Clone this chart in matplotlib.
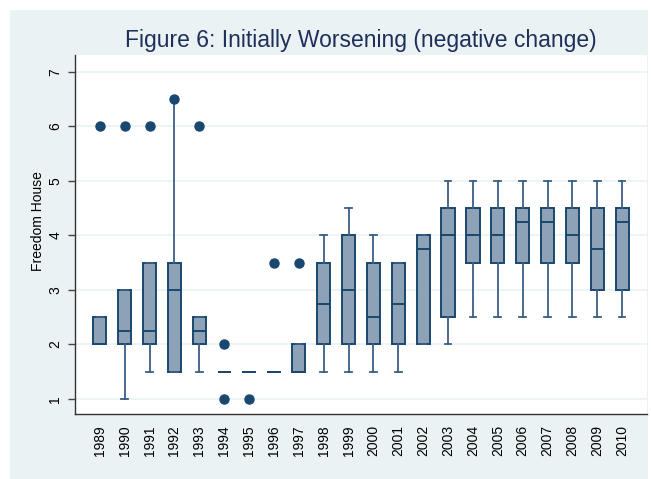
import matplotlib
matplotlib.use("Agg")
import matplotlib.pyplot as plt
from matplotlib.patches import Rectangle

years = [str(y) for y in range(1989, 2011)]
q1 = [2, 2, 2, 1.5, 2, 1.5, 1.5, 1.5, 1.5, 2, 2, 2, 2, 2, 2.5, 3.5, 3.5, 3.5, 3.5, 3.5, 3, 3]
med = [2, 2.25, 2.25, 3, 2.25, 1.5, 1.5, 1.5, 1.5, 2.75, 3, 2.5, 2.75, 3.75, 4, 4, 4, 4.25, 4.25, 4, 3.75, 4.25]
q3 = [2.5, 3, 3.5, 3.5, 2.5, 1.5, 1.5, 1.5, 2, 3.5, 4, 3.5, 3.5, 4, 4.5, 4.5, 4.5, 4.5, 4.5, 4.5, 4.5, 4.5]
whislo = [2, 1, 1.5, 1.5, 1.5, 1.5, 1.5, 1.5, 1.5, 1.5, 1.5, 1.5, 1.5, 2, 2, 2.5, 2.5, 2.5, 2.5, 2.5, 2.5, 2.5]
whishi = [2.5, 3, 3.5, 6.5, 2.5, 1.5, 1.5, 1.5, 2, 4, 4.5, 4, 3.5, 4, 5, 5, 5, 5, 5, 5, 5, 5]
outliers = [[6], [6], [6], [6.5], [6], [2, 1], [1], [3.5], [3.5],
            [], [], [], [], [], [], [], [], [], [], [], [], []]
yticks = [1, 2, 3, 4, 5, 6, 7]

navy = "#1a476f"
fill = "#8da2b6"
bg = "#eaf2f3"

plt.rcParams['font.family'] = ['Liberation Sans', 'DejaVu Sans']

fig = plt.figure(figsize=(6.51, 4.79), dpi=100)
fig.patch.set_facecolor("white")
fig.patches.append(Rectangle((10/651, 0), (648-10)/651, (479-10)/479,
                             transform=fig.transFigure, facecolor=bg,
                             edgecolor="none", zorder=-10))

ax = fig.add_axes([75/651, (479-414)/479, (647-75)/651, (414-55)/479])
ax.set_facecolor("white")

stats = []
for i in range(len(years)):
    stats.append(dict(q1=q1[i], med=med[i], q3=q3[i], whislo=whislo[i],
                      whishi=whishi[i], fliers=outliers[i], label=years[i]))

positions = list(range(1, len(years) + 1))
ax.bxp(stats, positions=positions, widths=0.53, patch_artist=True,
       showfliers=True,
       boxprops=dict(facecolor=fill, edgecolor=navy, linewidth=1.4),
       medianprops=dict(color=navy, linewidth=1.4),
       whiskerprops=dict(color="#3a5f85", linewidth=1.3),
       capprops=dict(color="#3a5f85", linewidth=1.3),
       flierprops=dict(marker='o', markerfacecolor=navy, markeredgecolor=navy,
                       markersize=6.5, linestyle='none'))

ax.set_xlim(0, 23)
ax.set_ylim(0.725, 7.31)
ax.set_yticks(yticks)
ax.set_yticklabels([str(t) for t in yticks], rotation=90, va='center', fontsize=10)
ax.set_xticks(positions)
ax.set_xticklabels(years, rotation=90, fontsize=10)
ax.tick_params(axis='x', length=0, pad=8)
ax.tick_params(axis='y', length=5, width=1, color="#444444", pad=4)
ax.yaxis.grid(True, color=bg, linewidth=1.2)
ax.set_axisbelow(True)
for s in ['top', 'right']:
    ax.spines[s].set_visible(False)
for s in ['left', 'bottom']:
    ax.spines[s].set_color("#333333")
    ax.spines[s].set_linewidth(1.0)

ax.set_ylabel("Freedom House", fontsize=10)
ax.yaxis.set_label_coords((45 - 75) / 572, (414 - 221.5) / 359)
fig.text(361/651, 1 - 47/479, "Figure 6: Initially Worsening (negative change)",
         ha='center', va='baseline', fontsize=16.5, color="#1e2f5a")

fig.savefig("out.png", dpi=100)
